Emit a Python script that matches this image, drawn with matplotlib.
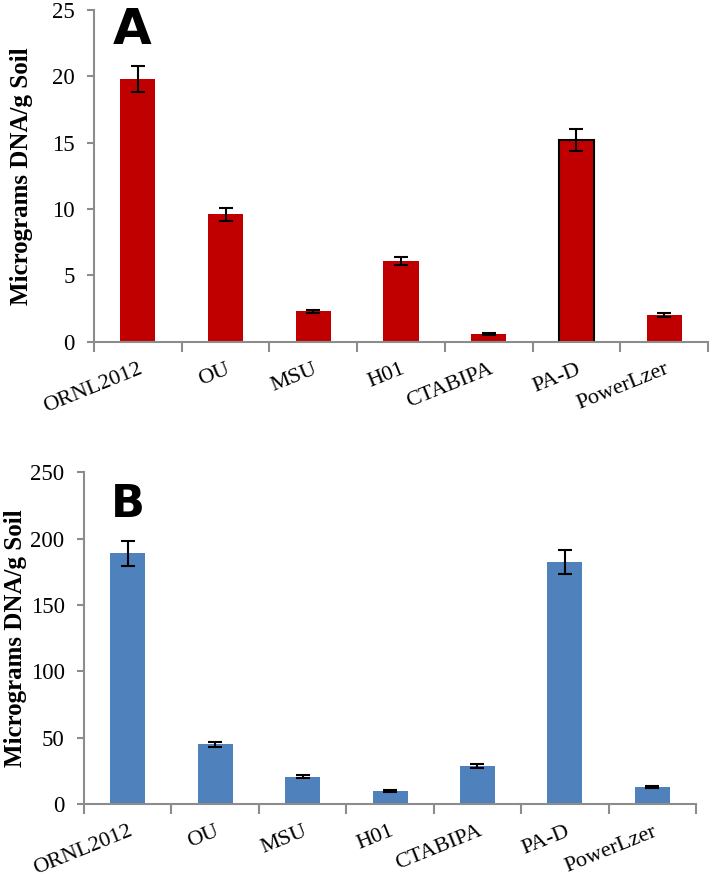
import numpy as np
import matplotlib.pyplot as plt
from matplotlib.ticker import FixedLocator, NullFormatter

categories = ["ORNL2012", "OU", "MSU", "H01", "CTABIPA", "PA-D", "PowerLzer"]

# panel A: DNA yield (micrograms / g soil)
vals_a = [19.8, 9.6, 2.3, 6.1, 0.58, 15.2, 2.0]
errs_a = [1.0, 0.5, 0.1, 0.3, 0.05, 0.8, 0.15]

# panel B
vals_b = [189, 45, 20.6, 9.8, 28.6, 182.5, 13.1]
errs_b = [9.5, 2.0, 1.0, 0.7, 1.5, 9.0, 0.8]

RED = "#C00000"
BLUE = "#4F81BD"
AXCOL = "#8C8C8C"
SERIF = ["Liberation Serif", "DejaVu Serif"]

fig = plt.figure(figsize=(7.15, 8.81), dpi=100)

def panel(rect, vals, errs, color, ymax, step, letter, letter_xy, letter_size,
          label_x, edge_idx=None):
    ax = fig.add_axes(rect)
    x = np.arange(len(categories))
    edges = ["black" if i == edge_idx else color for i in range(len(vals))]
    lws = [1.5 if i == edge_idx else 0 for i in range(len(vals))]
    ax.bar(x, vals, width=0.4, color=color, edgecolor=edges, linewidth=lws, zorder=2)
    ax.errorbar(x, vals, yerr=errs, fmt="none", ecolor="black", elinewidth=1.5,
                capsize=5, capthick=1.5, zorder=3)
    ax.set_xlim(-0.5, len(categories) - 0.5)
    ax.set_ylim(0, ymax)
    yt = np.arange(0, ymax + 1, step)
    ax.set_yticks(yt)
    ax.set_yticklabels([f"{v:g}" for v in yt], fontfamily=SERIF, fontsize=16.5)
    ax.set_xticks(x)
    ax.set_xticklabels(categories, rotation=22, ha="right", va="top",
                       rotation_mode="anchor", fontfamily=SERIF, fontsize=16)
    ax.tick_params(axis="x", which="major", length=0, pad=13)
    ax.xaxis.set_minor_locator(FixedLocator(np.arange(-0.5, len(categories), 1)))
    ax.xaxis.set_minor_formatter(NullFormatter())
    ax.tick_params(axis="x", which="minor", length=7, width=1.5, color=AXCOL)
    ax.tick_params(axis="y", length=5, width=1.5, color=AXCOL, pad=9)
    for s in ("top", "right"):
        ax.spines[s].set_visible(False)
    for s in ("left", "bottom"):
        ax.spines[s].set_color(AXCOL)
        ax.spines[s].set_linewidth(1.5)
    ax.set_ylabel("Micrograms DNA/g Soil", fontfamily=SERIF, fontsize=18,
                  fontweight="bold")
    ax.yaxis.set_label_coords(label_x, 0.5)
    fig.text(letter_xy[0], letter_xy[1], letter, fontsize=letter_size,
             fontweight="bold", fontfamily="DejaVu Sans", ha="left", va="top")
    return ax

panel([0.1315, 0.612, 0.8587, 0.3768], vals_a, errs_a, RED, 25, 5,
      "A", (0.158, 0.993), 36, -0.099, edge_idx=5)
panel([0.1175, 0.0874, 0.856, 0.3765], vals_b, errs_b, BLUE, 250, 50,
      "B", (0.155, 0.452), 32, -0.093)

fig.savefig("out.png", dpi=100)
